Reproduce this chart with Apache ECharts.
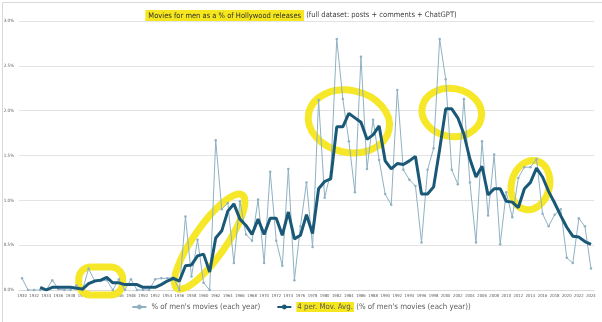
<!DOCTYPE html>
<html>
<head>
<meta charset="utf-8">
<script src="https://cdn.jsdelivr.net/npm/echarts@6/dist/echarts.min.js"></script>
<style>
html,body{margin:0;padding:0;background:#fff;}
#c{width:602px;height:322px;}
</style>
</head>
<body>
<div id="c"></div>
<script>
const years = ['1930','1931','1932','1933','1934','1935','1936','1937','1938','1939',
'1940','1941','1942','1943','1944','1945','1946','1947','1948','1949',
'1950','1951','1952','1953','1954','1955','1956','1957','1958','1959',
'1960','1961','1962','1963','1964','1965','1966','1967','1968','1969',
'1970','1971','1972','1973','1974','1975','1976','1977','1978','1979',
'1980','1981','1982','1983','1984','1985','1986','1987','1988','1989',
'1990','1991','1992','1993','1994','1995','1996','1997','1998','1999',
'2000','2001','2002','2003','2004','2005','2006','2007','2008','2009',
'2010','2011','2012','2013','2014','2015','2016','2017','2018','2019',
'2020','2021','2022','2023','2024'];

// % of men's movies (each year), in percent
const yearly = [0.13,0,0,0,0,0.11,0.01,0,0,0.05,
0,0.24,0.10,0.10,0.11,0,0.12,0,0.12,0,
0,0,0.12,0.13,0.13,0.14,0,0.82,0.15,0.56,
0.08,0,1.67,0.90,0.97,0.30,0.99,0.62,0.55,1.01,
0.30,1.32,0.55,0.27,1.35,0.11,0.71,1.20,0.48,2.12,
1.03,1.31,2.80,2.13,1.66,1.09,2.60,1.35,1.90,1.45,
1.07,0.95,2.23,1.34,1.23,1.16,0.53,1.34,1.58,2.80,
2.35,1.34,1.18,2.13,1.20,0.53,1.66,0.83,1.51,0.51,
1.09,0.81,1.25,1.37,1.37,1.46,0.85,0.71,0.84,0.90,
0.36,0.30,0.80,0.71,0.24];

// 4 per. Mov. Avg., in percent
const movingAvg = [null,null,null,0.03,0.00,0.03,0.03,0.03,0.03,0.02,
0.01,0.07,0.10,0.11,0.14,0.08,0.08,0.06,0.06,0.06,
0.03,0.03,0.03,0.06,0.10,0.13,0.10,0.27,0.28,0.38,
0.40,0.20,0.58,0.66,0.88,0.96,0.79,0.72,0.62,0.79,
0.62,0.80,0.80,0.61,0.87,0.57,0.61,0.84,0.63,1.13,
1.21,1.24,1.82,1.82,1.97,1.92,1.87,1.68,1.73,1.83,
1.44,1.35,1.41,1.40,1.44,1.49,1.07,1.07,1.15,1.57,
2.02,2.02,1.92,1.74,1.46,1.26,1.38,1.06,1.13,1.13,
0.99,0.98,0.92,1.13,1.20,1.36,1.26,1.10,0.97,0.83,
0.70,0.60,0.59,0.54,0.51];

const yTicks = [0,0.5,1.0,1.5,2.0,2.5,3.0];

const seriesYearlyName = "% of men's movies (each year)";
const seriesMAName = "4 per. Mov. Avg. (% of men's movies (each year))";
const titleMain = "Movies for men as a % of Hollywood releases";
const titleSub = " (full dataset: posts + comments + ChatGPT)";

// highlighter annotations (anchored in data space)
const highlights = [
  {type:'rect', at:['1943', 0.10], w:44, h:28, rot:0},
  {type:'ellipse', at:['1961', 0.54], rx:57, ry:16, rot:55},
  {type:'ellipse', at:['1984', 1.88], rx:41, ry:31, rot:-12},
  {type:'ellipse', at:['2001', 1.98], rx:30, ry:24, rot:-10},
  {type:'ellipse', at:['2014', 1.17], rx:19, ry:25, rot:-15}
];

const FONT = "'Liberation Sans Narrow','DejaVu Sans Condensed','Liberation Sans',sans-serif";
const YELLOW = '#f6e61d';

const chart = echarts.init(document.getElementById('c'), null, {renderer:'canvas'});
chart.setOption({
  animation:false,
  backgroundColor:'#ffffff',
  title:{
    text:'{hl|' + titleMain + '}' + titleSub,
    left:'center', top:5,
    textStyle:{
      fontFamily:FONT, fontSize:7.5, fontWeight:'normal', color:'#404040',
      rich:{ hl:{ fontFamily:FONT, fontSize:7.5, color:'#303030', backgroundColor:YELLOW, padding:[2,3,1,3] } }
    }
  },
  legend:{
    bottom:5, left:'center',
    itemWidth:14, itemHeight:6, itemGap:16,
    data:[seriesYearlyName, seriesMAName],
    formatter:function(name){
      if(name === seriesMAName){
        return '{hl|4 per. Mov. Avg.} (% of men\'s movies (each year))';
      }
      return name;
    },
    textStyle:{
      fontFamily:FONT, fontSize:7.8, color:'#595959',
      rich:{ hl:{ fontFamily:FONT, fontSize:7.8, color:'#595959', backgroundColor:YELLOW, padding:[1,1] } }
    }
  },
  grid:{ left:19, right:8, top:21, bottom:32, containLabel:false },
  xAxis:{
    type:'category', data:years, boundaryGap:true,
    axisLine:{ show:true, lineStyle:{ color:'#d9d9d9' } },
    axisTick:{ show:false },
    axisLabel:{ interval:1, fontFamily:FONT, fontSize:4.2, color:'#595959', margin:4 }
  },
  yAxis:{
    type:'value', min:0, max:3.0, interval:0.5,
    axisLine:{ show:false }, axisTick:{ show:false },
    splitLine:{ lineStyle:{ color:'#e3e3e3', width:1 } },
    axisLabel:{ fontFamily:FONT, fontSize:4.5, color:'#595959', margin:5,
      formatter:function(v){ return v.toFixed(1) + '%'; } }
  },
  series:[
    {
      name:seriesYearlyName, type:'line', data:yearly,
      symbol:'circle', symbolSize:2.5, showSymbol:true,
      lineStyle:{ color:'#8fb1c2', width:1 },
      itemStyle:{ color:'#8fb1c2' },
      z:3
    },
    {
      name:seriesMAName, type:'line', data:movingAvg,
      symbol:'none', connectNulls:false,
      lineStyle:{ color:'#1a5877', width:3 },
      itemStyle:{ color:'#1a5877' },
      z:4
    }
  ]
});

// place highlighter marks from data coordinates
const gfx = highlights.map(function(h){
  const p = chart.convertToPixel({gridIndex:0}, h.at);
  const common = {
    x:p[0], y:p[1], rotation:h.rot*Math.PI/180, z:1, silent:true,
    style:{ fill:'none', stroke:YELLOW, lineWidth:7, opacity:0.95 }
  };
  if(h.type === 'rect'){
    return Object.assign({type:'rect', shape:{ x:-h.w/2, y:-h.h/2, width:h.w, height:h.h, r:12 }}, common);
  }
  return Object.assign({type:'ellipse', shape:{ cx:0, cy:0, rx:h.rx, ry:h.ry }}, common);
});
gfx.push({type:'rect', left:0, top:0, z:0, silent:true,
  shape:{x:0.5,y:0.5,width:601,height:321}, style:{fill:'none', stroke:'#d9d9d9', lineWidth:1}});
chart.setOption({ graphic: gfx });
</script>
</body>
</html>
